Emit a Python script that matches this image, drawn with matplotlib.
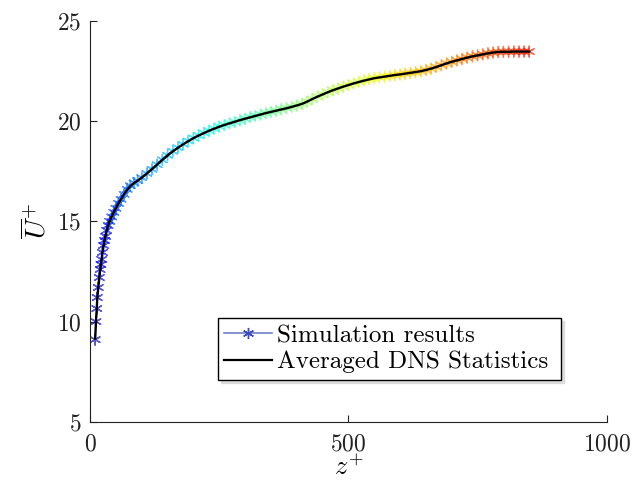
import matplotlib
matplotlib.use("Agg")
import matplotlib.pyplot as plt
from matplotlib.lines import Line2D
import numpy as np

# simulation results (asterisk markers)
z_sim = [10, 11.5, 13, 14, 16, 18, 19.5, 21, 22.5, 24, 26, 28, 30, 32, 35, 38, 42, 46,
         50, 55, 60, 66, 72, 78, 85, 92,
         100, 110, 120, 130, 140, 150, 160, 170, 180, 190, 200, 210, 220, 230, 240,
         250, 260, 270, 280, 290, 300, 310, 320, 330, 340, 350, 360, 370, 380, 390,
         400, 410, 420, 430, 440, 450, 460, 470, 480, 490, 500, 510, 520, 530, 540,
         550, 560, 570, 580, 590, 600, 610, 620, 630, 640, 650, 660, 670, 680, 690,
         700, 710, 720, 730, 740, 750, 760, 770, 780, 790, 800, 810, 820, 830, 840, 850]
u_sim = [9.10, 10.00, 10.65, 11.20, 11.70, 12.20, 12.60, 12.85, 13.10, 13.45, 13.80,
         14.05, 14.25, 14.55, 14.80, 15.00, 15.22, 15.45, 15.65, 15.90, 16.10, 16.35,
         16.60, 16.78, 16.92, 17.03,
         17.18, 17.39, 17.60, 17.83, 18.07, 18.30, 18.50, 18.68, 18.85, 19.01, 19.16,
         19.28, 19.41, 19.52, 19.63, 19.73, 19.81, 19.89, 19.96, 20.04, 20.12, 20.20,
         20.26, 20.33, 20.40, 20.46, 20.52, 20.59, 20.65, 20.71, 20.78, 20.86, 20.97,
         21.10, 21.22, 21.33, 21.44, 21.54, 21.63, 21.72, 21.80, 21.88, 21.96, 22.03,
         22.09, 22.14, 22.18, 22.22, 22.26, 22.30, 22.33, 22.37, 22.40, 22.45, 22.49,
         22.55, 22.62, 22.70, 22.79, 22.88, 22.96, 23.03, 23.10, 23.17, 23.23, 23.28,
         23.33, 23.38, 23.42, 23.45, 23.46, 23.46, 23.47, 23.47, 23.47, 23.47]

# averaged DNS statistics (black line)
z_dns = [10, 11.5, 13, 14, 16, 18, 19.5, 21, 22.5, 24, 26, 28, 30, 32, 35, 38, 42, 46,
         50, 55, 60, 66, 72, 78, 85, 92,
         100, 110, 120, 130, 140, 150, 160, 170, 180, 190, 200, 210, 220, 230, 240,
         250, 260, 270, 280, 290, 300, 310, 320, 330, 340, 350, 360, 370, 380, 390,
         400, 410, 420, 430, 440, 450, 460, 470, 480, 490, 500, 510, 520, 530, 540,
         550, 560, 570, 580, 590, 600, 610, 620, 630, 640, 650, 660, 670, 680, 690,
         700, 710, 720, 730, 740, 750, 760, 770, 780, 790, 800, 810, 820, 830, 840, 850]
u_dns = [9.15, 10.00, 10.65, 11.15, 11.70, 12.20, 12.55, 12.85, 13.12, 13.45, 13.78,
         14.05, 14.28, 14.52, 14.80, 15.02, 15.25, 15.46, 15.66, 15.90, 16.11, 16.36,
         16.58, 16.76, 16.91, 17.03,
         17.18, 17.39, 17.61, 17.84, 18.07, 18.29, 18.49, 18.67, 18.84, 19.00, 19.15,
         19.28, 19.40, 19.52, 19.62, 19.72, 19.81, 19.89, 19.97, 20.05, 20.12, 20.19,
         20.26, 20.33, 20.40, 20.46, 20.52, 20.58, 20.64, 20.71, 20.78, 20.86, 20.97,
         21.10, 21.22, 21.33, 21.44, 21.54, 21.63, 21.72, 21.80, 21.88, 21.95, 22.02,
         22.08, 22.14, 22.18, 22.22, 22.26, 22.30, 22.33, 22.37, 22.41, 22.45, 22.49,
         22.55, 22.62, 22.70, 22.79, 22.88, 22.96, 23.03, 23.10, 23.17, 23.23, 23.28,
         23.33, 23.38, 23.42, 23.45, 23.46, 23.46, 23.47, 23.47, 23.47, 23.47]

plt.rcParams['font.family'] = 'serif'
plt.rcParams['font.serif'] = ['cmr10']
plt.rcParams['mathtext.fontset'] = 'cm'
plt.rcParams['axes.formatter.use_mathtext'] = True

fig = plt.figure(figsize=(6.34, 4.86), dpi=100)
ax = fig.add_axes([0.142, 0.132, 0.815, 0.825])

star = (6, 2, 0)
idx = np.arange(len(z_sim))
ax.scatter(z_sim, u_sim, c=idx, cmap='jet', vmin=-0.05 * len(idx), vmax=1.12 * len(idx),
           marker=star, s=60, linewidths=1.0, alpha=0.65, zorder=2)
ax.plot(z_dns, u_dns, color='black', lw=1.7, zorder=3)

ax.set_xlim(0, 1000)
ax.set_ylim(5, 25)
ax.set_xticks([0, 500, 1000])
ax.set_yticks([5, 10, 15, 20, 25])
ax.tick_params(direction='in', length=5, width=0.8, labelsize=17, colors='#222222')
ax.tick_params(axis='x', pad=8)
ax.tick_params(axis='y', pad=6)
for s in ['top', 'right']:
    ax.spines[s].set_visible(False)
for s in ['left', 'bottom']:
    ax.spines[s].set_color('#222222')
    ax.spines[s].set_linewidth(0.8)

ax.set_xlabel(r'$z^{+}$', fontsize=19, labelpad=0)
ax.set_ylabel(r'$\overline{U}^{+}$', fontsize=20, labelpad=4)

handles = [Line2D([], [], color='#7080cc', marker=star, markersize=8, lw=1.2,
                  markeredgecolor='#3a4ab8'),
           Line2D([], [], color='black', lw=1.6)]
leg = ax.legend(handles, ['Simulation results', 'Averaged DNS Statistics'],
                loc='lower left', bbox_to_anchor=(0.248, 0.105, 0.663, 0.157),
                mode='expand', fontsize=18, fancybox=False, edgecolor='black',
                framealpha=1, borderpad=0.25, labelspacing=0.15,
                handlelength=1.9, handletextpad=0.2, borderaxespad=0,
                shadow={'color': '0.8', 'alpha': 0.6, 'ox': 2, 'oy': -2})
leg.get_frame().set_linewidth(1.0)

fig.savefig('out.png', dpi=100)
